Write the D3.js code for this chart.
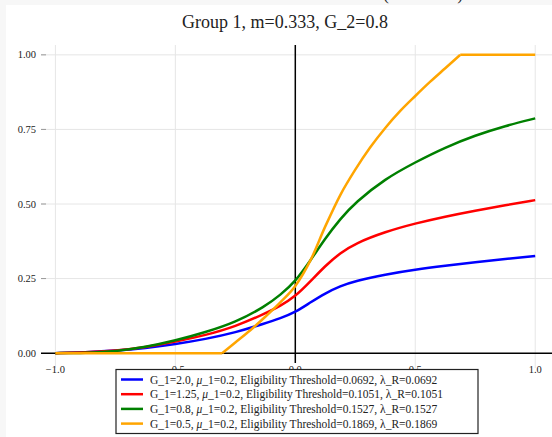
<!DOCTYPE html>
<html>
<head>
<meta charset="utf-8">
<script src="https://cdn.jsdelivr.net/npm/d3@7"></script>
<style>
  body { margin: 0; background: #f7f7f7; }
  svg { display: block; }
  text { font-family: "Liberation Serif", "DejaVu Serif", serif; fill: #222; }
</style>
</head>
<body>
<svg id="chart" width="552" height="437"></svg>
<script>
const xs = [-1, -0.875, -0.75, -0.625, -0.5, -0.375, -0.25, -0.125, -0.0625, 0, 0.0625, 0.125, 0.1875, 0.25, 0.375, 0.5, 0.625, 0.75, 0.875, 1];
const blueVals  = [0, 0.003, 0.008, 0.017, 0.03, 0.047, 0.069, 0.1, 0.117, 0.137, 0.17, 0.201, 0.225, 0.242, 0.264, 0.28, 0.293, 0.305, 0.316, 0.326];
const redVals   = [0, 0.002, 0.008, 0.02, 0.038, 0.06, 0.089, 0.133, 0.158, 0.19, 0.24, 0.293, 0.336, 0.368, 0.407, 0.435, 0.458, 0.478, 0.496, 0.513];
const greenVals = [0, 0.001, 0.006, 0.02, 0.042, 0.07, 0.103, 0.157, 0.195, 0.24, 0.31, 0.385, 0.45, 0.505, 0.585, 0.64, 0.69, 0.73, 0.762, 0.787];
// orange has kinks, so its own x list
const orangeXs   = [-1, -0.5, -0.305, -0.25, -0.1875, -0.125, -0.0625, 0, 0.0625, 0.125, 0.1875, 0.25, 0.3125, 0.375, 0.4375, 0.5, 0.5625, 0.625, 0.6875, 0.8, 1];
const orangeVals = [0, 0, 0, 0.036, 0.077, 0.122, 0.17, 0.225, 0.31, 0.425, 0.53, 0.615, 0.69, 0.755, 0.812, 0.862, 0.91, 0.955, 1, 1, 1];

const labels = [
  ["G_1=2.0, ", "μ", "_1=0.2, Eligibility Threshold=0.0692, λ_R=0.0692"],
  ["G_1=1.25, ", "μ", "_1=0.2, Eligibility Threshold=0.1051, λ_R=0.1051"],
  ["G_1=0.8, ", "μ", "_1=0.2, Eligibility Threshold=0.1527, λ_R=0.1527"],
  ["G_1=0.5, ", "μ", "_1=0.2, Eligibility Threshold=0.1869, λ_R=0.1869"]
];
const colors = ["#0000ff", "#ff0000", "#008000", "#ffa500"];
const xTicks = [-1, -0.5, 0, 0.5, 1];
const yTicks = [0, 0.25, 0.5, 0.75, 1];

const smoothSeries = [
  xs.map((x, i) => [x, blueVals[i]]),
  xs.map((x, i) => [x, redVals[i]]),
  xs.map((x, i) => [x, greenVals[i]])
];
const orange = orangeXs.map((x, i) => [x, orangeVals[i]]);
// split orange at its corners so they stay sharp
const oStart = orangeVals.lastIndexOf(0), oEnd = orangeVals.indexOf(1);
const orangeParts = [
  { pts: orange.slice(0, oStart + 1), curve: d3.curveLinear },
  { pts: orange.slice(oStart, oEnd + 1), curve: d3.curveMonotoneX },
  { pts: orange.slice(oEnd), curve: d3.curveLinear }
];

const svg = d3.select("#chart");

// white panel (the figure is a crop of a bigger one)
svg.append("rect").attr("x", 6).attr("y", 5).attr("width", 546).attr("height", 432).attr("fill", "#fff");

// super title of the outer figure, cut off by the crop
svg.append("text").attr("x", 463).attr("y", 0).attr("text-anchor", "end")
  .style("font-size", "17px").text("Cumulative Share (Model 1B)");

const plot = { left: 41, right: 552, top: 45, bottom: 363 };

const x = d3.scaleLinear().domain([-1.06, 1.07]).range([plot.left, plot.right]);
const y = d3.scaleLinear().domain([-0.033, 1.033]).range([plot.bottom, plot.top]);

svg.append("text")
  .attr("x", 285).attr("y", 28)
  .attr("text-anchor", "middle")
  .style("font-size", "18px")
  .text("Group 1, m=0.333, G_2=0.8");

// grid
svg.append("g").selectAll("line").data(xTicks.filter(d => d !== 0)).enter().append("line")
  .attr("x1", d => x(d)).attr("x2", d => x(d))
  .attr("y1", plot.top).attr("y2", plot.bottom + 5)
  .attr("stroke", "#e6e6e6").attr("stroke-width", 1);
svg.append("g").selectAll("line").data(yTicks.filter(d => d !== 0)).enter().append("line")
  .attr("x1", plot.left).attr("x2", plot.right)
  .attr("y1", d => y(d)).attr("y2", d => y(d))
  .attr("stroke", "#e6e6e6").attr("stroke-width", 1);
// tick stubs on the left
svg.append("g").selectAll("line").data(yTicks.filter(d => d !== 0)).enter().append("line")
  .attr("x1", plot.left).attr("x2", plot.left + 5)
  .attr("y1", d => y(d)).attr("y2", d => y(d))
  .attr("stroke", "#999").attr("stroke-width", 1);

// tick labels
svg.append("g").selectAll("text").data(yTicks).enter().append("text")
  .attr("x", 36).attr("y", d => y(d) + 3.5)
  .attr("text-anchor", "end")
  .style("font-size", "10.5px")
  .text(d => d3.format(".2f")(d));
svg.append("g").selectAll("text").data(xTicks).enter().append("text")
  .attr("x", d => x(d)).attr("y", y(0) + 20)
  .attr("text-anchor", "middle")
  .style("font-size", "10.5px")
  .text(d => d3.format(".1f")(d).replace("-", "−"));

// zero lines
svg.append("line").attr("x1", plot.left).attr("x2", plot.right)
  .attr("y1", y(0)).attr("y2", y(0)).attr("stroke", "#000").attr("stroke-width", 1.5);
svg.append("line").attr("x1", x(0)).attr("x2", x(0))
  .attr("y1", plot.top).attr("y2", plot.bottom).attr("stroke", "#000").attr("stroke-width", 1.5);

// curves
const smoothLine = d3.line().x(d => x(d[0])).y(d => y(d[1])).curve(d3.curveBasis);
svg.append("g").selectAll("path").data(smoothSeries).enter().append("path")
  .attr("d", smoothLine)
  .attr("fill", "none")
  .attr("stroke", (d, i) => colors[i])
  .attr("stroke-width", 2.5);
svg.append("g").selectAll("path").data(orangeParts).enter().append("path")
  .attr("d", p => d3.line().x(d => x(d[0])).y(d => y(d[1])).curve(p.curve)(p.pts))
  .attr("fill", "none")
  .attr("stroke", colors[3])
  .attr("stroke-width", 2.5)
  .attr("stroke-linejoin", "round");

// legend
const lg = svg.append("g").attr("transform", "translate(116,369.5)");
lg.append("rect").attr("width", 362).attr("height", 64)
  .attr("fill", "#fff").attr("stroke", "#222").attr("stroke-width", 1.2);
const rows = lg.selectAll("g.row").data(labels).enter().append("g")
  .attr("transform", (d, i) => `translate(0,${10 + i * 14.7})`);
rows.append("line").attr("x1", 5).attr("x2", 27).attr("y1", 0).attr("y2", 0)
  .attr("stroke", (d, i) => colors[i]).attr("stroke-width", 2.5);
const t = rows.append("text").attr("x", 34).attr("y", 4).style("font-size", "11.5px");
t.append("tspan").text(d => d[0]);
t.append("tspan").style("font-style", "italic").text(d => d[1]);
t.append("tspan").text(d => d[2]);
</script>
</body>
</html>
